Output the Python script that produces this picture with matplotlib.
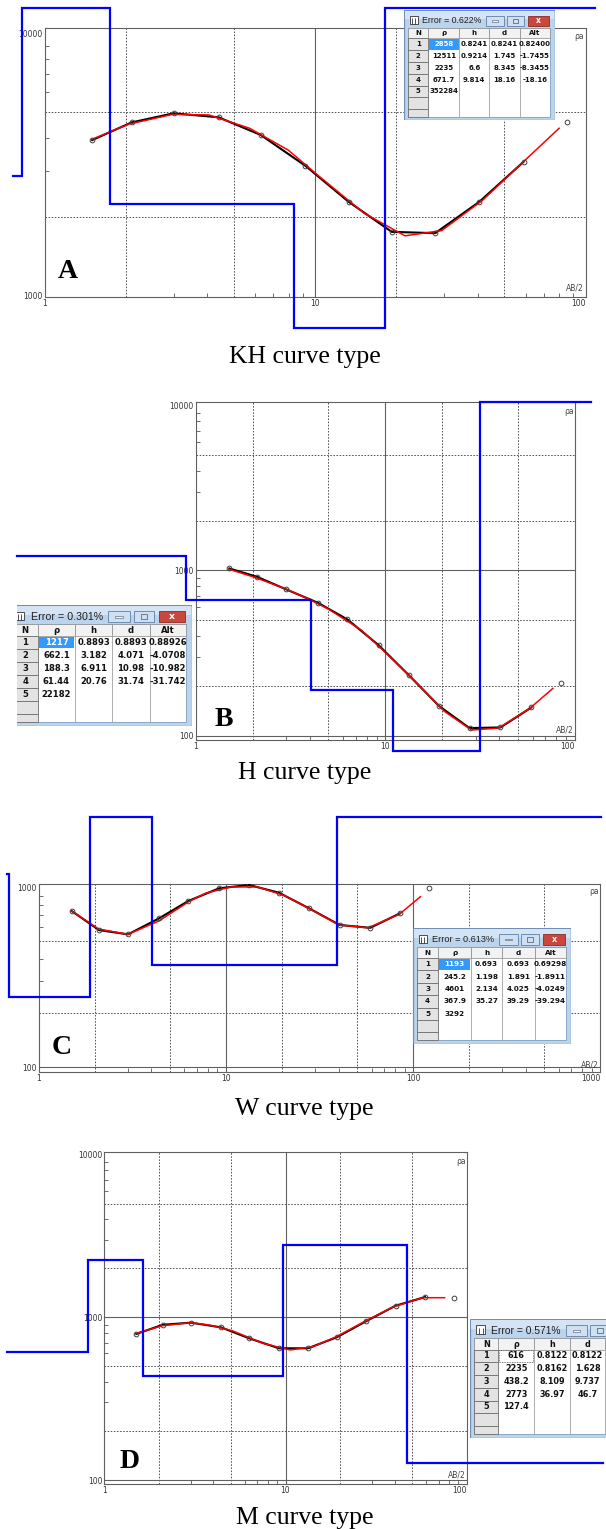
import numpy as np
import matplotlib.pyplot as plt
from matplotlib.patches import Rectangle
from matplotlib.ticker import LogLocator, NullFormatter

W, H = 606, 1529
fig = plt.figure(figsize=(W / 100, H / 100), dpi=100)

NARROW = ['Liberation Sans Narrow', 'DejaVu Sans']
SERIF = ['Liberation Serif', 'DejaVu Serif']

# AB/2 of the sounding stations (m)
ab2 = [1.5, 2.1, 3.0, 4.4, 6.3, 9.2, 13.3, 19.2, 27.8, 40.5, 59, 85, 122]

# A - KH curve
obs_A = [3920, 4580, 4960, 4790, 4100, 3130, 2280, 1750, 1730, 2280, 3240, 4590]
fit_x_A = [1.5, 2.05, 2.96, 4.05, 5.73, 7.96, 10.4, 15.2, 21.5, 29.4, 41.6, 58.9, 79.8]
fit_A = [3950, 4510, 4910, 4890, 4350, 3590, 2840, 2060, 1690, 1770, 2310, 3240, 4350]
rho_A = ["2858", "12511", "2235", "671.7", "352284"]
h_A = ["0.8241", "0.9214", "6.6", "9.814"]
d_A = ["0.8241", "1.745", "8.345", "18.16"]
alt_A = ["0.82400", "-1.7455", "-8.3455", "-18.16"]
err_A = "0.622"

# B - H curve
obs_B = [1028, 915, 767, 637, 505, 353, 232, 151, 111, 112, 148, 209]
fit_x_B = [1.49, 2.05, 2.99, 3.96, 5.01, 7.47, 10.1, 14.1, 20.5, 28.5, 39.6, 57.8, 76.6]
fit_B = [1018, 907, 771, 668, 583, 435, 315, 217, 140, 108, 111, 146, 193]
rho_B = ["1217", "662.1", "188.3", "61.44", "22182"]
h_B = ["0.8893", "3.182", "6.911", "20.76"]
d_B = ["0.8893", "4.071", "10.98", "31.74"]
alt_B = ["0.88926", "-4.0708", "-10.982", "-31.742"]
err_B = "0.301"

# C - W curve
obs_C = [738, 578, 547, 672, 839, 987, 1030, 933, 764, 617, 595, 716, 987]
fit_x_C = [1.5, 2.09, 2.99, 4.38, 6.33, 7.76, 10.6, 14.8, 20.6, 28.1, 40.2, 57.5, 84.3, 109.5]
fit_C = [738, 586, 547, 649, 831, 926, 1004, 1004, 898, 757, 617, 595, 707, 887]
rho_C = ["1193", "245.2", "4601", "367.9", "3292"]
h_C = ["0.693", "1.198", "2.134", "35.27"]
d_C = ["0.693", "1.891", "4.025", "39.29"]
alt_C = ["0.69298", "-1.8911", "-4.0249", "-39.294"]
err_C = "0.613"

# D - M curve
obs_D = [790, 900, 927, 868, 743, 645, 645, 754, 945, 1178, 1333, 1319]
fit_x_D = [1.5, 2.09, 2.99, 3.77, 5.07, 7.51, 10.6, 14.2, 19.1, 27.0, 39.5, 57.4, 75.6]
fit_D = [797, 888, 927, 897, 828, 692, 630, 660, 760, 936, 1161, 1320, 1320]
rho_D = ["616", "2235", "438.2", "2773", "127.4"]
h_D = ["0.8122", "0.8162", "8.109", "36.97"]
d_D = ["0.8122", "1.628", "9.737", "46.7"]
err_D = "0.571"

captions = ["KH curve type", "H curve type", "W curve type", "M curve type"]
letters = ["A", "B", "C", "D"]


def px_axes(x0, y0, x1, y1):
    return fig.add_axes([x0 / W, 1 - y1 / H, (x1 - x0) / W, (y1 - y0) / H])


def sounding(box, xlim, ylim, yticks, obs, fit_x, fit, rho, d, clip_x, clip_y):
    ax = px_axes(*box)
    ax.set_xscale('log')
    ax.set_yscale('log')
    ax.set_xlim(xlim)
    ax.set_ylim(ylim)
    for s in ax.spines.values():
        s.set_color('#606060')
        s.set_linewidth(0.8)

    # grid: dotted at 2 and 5, solid at inner decades
    for lo, hi, line in [(xlim[0], xlim[1], ax.axvline), (ylim[0], ylim[1], ax.axhline)]:
        for e in range(int(np.floor(np.log10(lo))), int(np.ceil(np.log10(hi))) + 1):
            for m in (2, 5):
                v = m * 10.0 ** e
                if lo < v < hi:
                    line(v, color='#505050', lw=0.7, ls=(0, (1.6, 1.6)), zorder=1)
            v = 10.0 ** e
            if lo * 1.05 < v < hi / 1.05:
                line(v, color='#606060', lw=0.8, zorder=1)

    xt = [10.0 ** e for e in range(0, 4) if xlim[0] * 0.99 <= 10.0 ** e <= xlim[1] * 1.01]
    ax.set_xticks(xt)
    ax.set_xticklabels([str(int(v)) for v in xt])
    ax.set_yticks(yticks)
    ax.set_yticklabels([str(int(v)) for v in yticks])
    ax.xaxis.set_minor_locator(LogLocator(base=10, subs=(3, 4, 6, 7, 8, 9)))
    ax.yaxis.set_minor_locator(LogLocator(base=10, subs=(3, 4, 6, 7, 8, 9)))
    ax.xaxis.set_minor_formatter(NullFormatter())
    ax.yaxis.set_minor_formatter(NullFormatter())
    ax.tick_params(which='major', length=0, pad=1.5, labelsize=5.5, labelcolor='#333333')
    ax.tick_params(which='minor', direction='in', length=3, width=0.6, color='#555555')
    for lab in ax.get_xticklabels() + ax.get_yticklabels():
        lab.set_family(NARROW)
    ax.get_xticklabels()[-1].set_horizontalalignment('right')

    # layered model (blue)
    r = [float(v) for v in rho]
    z = [float(v) for v in d]
    xs, ys = [clip_x[0]], [r[0]]
    for i, zi in enumerate(z):
        xs += [zi, zi]
        ys += [r[i], r[i + 1]]
    xs.append(clip_x[1])
    ys.append(r[-1])
    ys = np.clip(ys, clip_y[0], clip_y[1])
    ax.plot(xs, ys, color='#0000ff', lw=1.6, clip_on=False, zorder=5,
            solid_joinstyle='miter')

    n = len(obs)
    ax.plot(ab2[:n - 1], obs[:-1], color='black', lw=1.5, zorder=3)
    ax.plot(fit_x, fit, color='#ff0000', lw=1.1, zorder=4)
    ax.plot(ab2[:n], obs, 'o', ms=3.4, mfc='none', mec='#404040', mew=0.7, zorder=4)

    ax.text(0.997, 0.985, 'ρa', transform=ax.transAxes, ha='right', va='top',
            fontsize=5.5, color='#444444', family=NARROW)
    ax.text(0.997, 0.015, 'AB/2', transform=ax.transAxes, ha='right', va='bottom',
            fontsize=5.5, color='#444444', family=NARROW)
    return ax


def error_window(x0, y0, sx, sy, err, rho, h, d, alt, vis=(0, W), selected=True):
    w, hh = 151 * sx, 110 * sy
    vx0, vx1 = max(x0, vis[0]), min(x0 + w, vis[1])
    ax = px_axes(vx0, y0, vx1, y0 + hh)
    ax.set_xlim(vx0 - x0, vx1 - x0)
    ax.set_ylim(hh, 0)
    ax.axis('off')
    ax.set_zorder(10)
    fs = 5.0 * sx

    def R(x, y, ww, ht, **kw):
        p = Rectangle((x * sx, y * sy), ww * sx, ht * sy, **kw)
        ax.add_patch(p)
        return p

    R(0, 0, 151, 110, fc='#bcd3ec', ec='#6f8fb6', lw=0.9)
    R(1, 1, 149, 8, fc='#d4e4f5', ec='none')
    # icon
    R(5.5, 6, 8, 8, fc='white', ec='#333333', lw=0.6)
    ax.vlines([8 * sx, 11 * sx], 8 * sy, 14 * sy, color='#333333', lw=0.6)
    ax.text(18.5 * sx, 10.8 * sy, "Error = " + err + "%", ha='left', va='center',
            fontsize=6.3 * sx, color='#202020', family=['Liberation Sans', 'DejaVu Sans'])
    # caption buttons
    R(82, 5.7, 18, 10, fc='#cfe0f3', ec='#5c7fa8', lw=0.6)
    R(88, 10, 6, 1.6, fc='#f4f8fc', ec='#44546a', lw=0.4)
    R(103, 5.7, 17, 10, fc='#cfe0f3', ec='#5c7fa8', lw=0.6)
    R(109, 8.5, 5, 4.5, fc='none', ec='#44546a', lw=0.5)
    R(124, 5.7, 21, 10, fc='#c9473d', ec='#8a2a24', lw=0.6)
    ax.text(134.5 * sx, 10.7 * sy, 'x', ha='center', va='center', color='white',
            fontsize=5.5 * sx, fontweight='bold')

    # grid
    cx = [4, 24.3, 55.3, 85.3, 116, 146]
    top, head, rh, bot = 17.7, 10.6, 11.8, 106.7
    R(4, top, 142, bot - top, fc='white', ec='#7d9dc0', lw=0.6)
    for j, lab in enumerate(['N', 'ρ', 'h', 'd', 'Alt']):
        R(cx[j], top, cx[j + 1] - cx[j], head, fc='#f2f2f2', ec='#8a8a8a', lw=0.5)
        ax.text((cx[j] + cx[j + 1]) / 2 * sx, (top + head / 2 + 0.3) * sy, lab,
                ha='center', va='center', fontsize=fs, fontweight='bold', color='#111111')
    ax.vlines([c * sx for c in cx[2:5]], (top + head) * sy, bot * sy, color='#a0a0a0', lw=0.6)
    for i in range(7):
        yy = top + head + i * rh
        R(cx[0], yy, cx[1] - cx[0], min(rh, bot - yy), fc='#e3e3e3', ec='#6e6e6e', lw=0.6)
        if i < 5:
            ax.text((cx[0] + cx[1]) / 2 * sx, (yy + rh / 2) * sy, str(i + 1), ha='center',
                    va='center', fontsize=fs, fontweight='bold', color='#111111')

    y1 = top + head
    if selected:
        R(cx[1] + 0.8, y1 + 0.6, cx[2] - cx[1] - 1.6, rh - 1.2, fc='#3399ff', ec='none')
    else:
        R(cx[1] + 0.8, y1 + 0.6, cx[2] - cx[1] - 1.6, rh - 1.2, fc='none', ec='#555555',
          lw=0.6, ls=(0, (1, 1)))
    for j, col in enumerate([rho, h, d, alt]):
        if col is None:
            continue
        for i, v in enumerate(col):
            clip = Rectangle((cx[j + 1] * sx, (y1 + i * rh) * sy), (cx[j + 2] - cx[j + 1]) * sx,
                             rh * sy, transform=ax.transData)
            color = 'white' if (selected and j == 0 and i == 0) else '#111111'
            t = ax.text((cx[j + 1] + cx[j + 2]) / 2 * sx, (y1 + i * rh + rh / 2) * sy, v,
                        ha='center', va='center', fontsize=fs, fontweight='bold', color=color)
            t.set_clip_path(clip)
    return ax


# ---- panels ----
sounding((44.5, 28, 585.6, 297), (1, 100), (987, 10500), [1000, 10000],
         obs_A, fit_x_A, fit_A, rho_A, d_A, (0.768, 108), (752, 12500))
error_window(404, 10, 1.0, 1.0, err_A, rho_A, h_A, d_A, alt_A)

sounding((196, 402, 574.8, 740), (1, 100), (94, 10470), [100, 1000, 10000],
         obs_B, fit_x_B, fit_B, rho_B, d_B, (0.114, 122), (80.7, 10470))
error_window(8, 605, 1.22, 1.1, err_B, rho_B, h_B, d_B, alt_B, vis=(17, W))

sounding((38.7, 884, 600.3, 1072), (1, 1000), (93.8, 1043), [100, 1000],
         obs_C, fit_x_C, fit_C, rho_C, d_C, (0.677, 1010), (10, 2475))
error_window(412.8, 928.3, 1.05, 1.05, err_C, rho_C, h_C, d_C, alt_C)

sounding((104.4, 1152, 466.6, 1484), (1, 100), (94.5, 10380), [100, 1000, 10000],
         obs_D, fit_x_D, fit_D, rho_D, d_D, (0.29, 563), (10, 100000))
error_window(469.7, 1319, 1.17, 1.08, err_D, rho_D, h_D, d_D, None, selected=False)

letter_xy = [(67.6, 271.7), (224.2, 720), (61.8, 1047.7), (129.5, 1461.7)]
caption_base = [363.3, 778.7, 1114.7, 1523.7]
for lt, (lx, ly), cap, cb in zip(letters, letter_xy, captions, caption_base):
    fig.text(lx / W, 1 - ly / H, lt, ha='center', va='center', fontsize=20,
             fontweight='bold', family=SERIF, color='black')
    fig.text(304.5 / W, 1 - cb / H, cap, ha='center', va='baseline', fontsize=18.5,
             family=SERIF, color='black')

fig.savefig('out.png', dpi=100, facecolor='white')
